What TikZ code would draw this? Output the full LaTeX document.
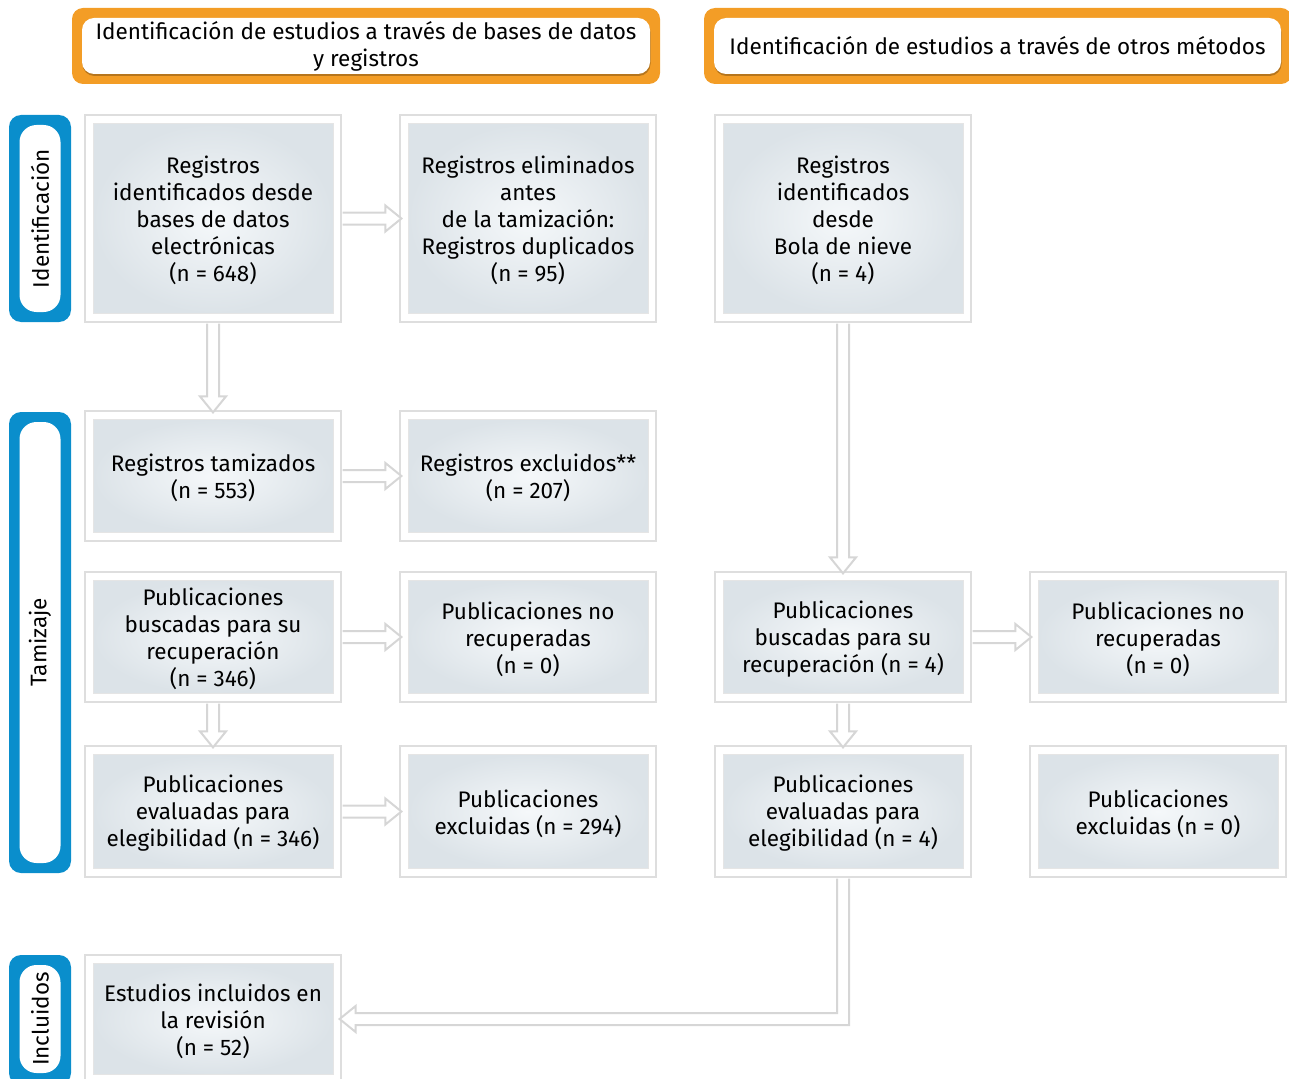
\documentclass[tikz,border=0pt]{standalone}
\usepackage{fontspec}
\setmainfont{Fira Sans}
\usetikzlibrary{calc,shadows}
\definecolor{orng}{RGB}{243,157,38}
\definecolor{blu}{RGB}{10,142,204}
\definecolor{boxedge}{RGB}{220,227,232}
\definecolor{boxmid}{RGB}{245,248,250}
\tikzset{
  outerbox/.style={draw=black!13, line width=1.2pt, fill=white, minimum width=256pt, inner sep=0pt},
  innerbox/.style={draw=black!10, line width=0.8pt, inner color=boxmid, outer color=boxedge,
    minimum width=240pt, inner sep=0pt},
  boxtext/.style={align=center, font=\fontsize{22.5}{27}\selectfont, inner sep=0pt},
  arrowshape/.style={fill=white, draw=black!16, line width=2pt, line join=miter},
  headouter/.style={fill=orng, rounded corners=11pt, minimum width=588pt, minimum height=76pt, inner sep=0pt},
  headinner/.style={fill=white, rounded corners=12pt, minimum width=568pt, minimum height=56pt, inner sep=0pt,
    align=center, font=\fontsize{22.5}{28}\selectfont,
    drop shadow={shadow xshift=0.5pt, shadow yshift=-2pt, opacity=0.25, fill=black}},
  sideouter/.style={fill=blu, rounded corners=12pt, minimum width=62pt, inner sep=0pt},
  sideinner/.style={fill=white, rounded corners=17pt, minimum width=41pt, inner sep=0pt},
  sidetext/.style={rotate=90, font=\fontsize{22.5}{27}\selectfont, inner sep=0pt},
}
\newcommand\pbox[5]{%
  \node[outerbox, minimum height=#4pt] (#1) at (#2,#3) {};
  \node[innerbox, minimum height=#4pt-17pt] (#1i) at (#2,#3) {};
  \node[boxtext] (#1t) at ([yshift=-2pt]#1i.center) {#5};}
% right-pointing arrow from #1.east to #2.west
\newcommand\arrR[2]{%
  \draw[arrowshape] let \p1=(#1.east), \p2=(#2.west) in
    ({\x1+1pt},{\y1+6pt}) -- ({\x2-14pt},{\y1+6pt}) -- ({\x2-14pt},{\y1+13pt}) -- ({\x2+2pt},\y1)
    -- ({\x2-14pt},{\y1-13pt}) -- ({\x2-14pt},{\y1-6pt}) -- ({\x1+1pt},{\y1-6pt});}
% down-pointing arrow from #1.south to #2.north
\newcommand\arrD[2]{%
  \draw[arrowshape] let \p1=(#1.south), \p2=(#2.north) in
    ({\x1-6pt},{\y1-1pt}) -- ({\x1-6pt},{\y2+14pt}) -- ({\x1-13pt},{\y2+14pt}) -- (\x1,{\y2-2pt})
    -- ({\x1+13pt},{\y2+14pt}) -- ({\x1+6pt},{\y2+14pt}) -- ({\x1+6pt},{\y1-1pt});}
\begin{document}
\begin{tikzpicture}[x=1pt,y=-1pt]
\useasboundingbox (0,0) rectangle (1289,1078);
\clip (0,0) rectangle (1289,1078);

% headers
\node[headouter] (h1) at (366,46) {};
\node[headinner] (h1i) at (366,46) {Identificación de estudios a través de bases de datos\\[-1pt]y registros};
\node[headouter] (h2) at (998,46) {};
\node[headinner, minimum width=567pt] (h2i) at (997.5,46) {Identificación de estudios a través de otros métodos};

% side labels
\node[sideouter, minimum height=207pt] (s1) at (40,218.5) {};
\node[sideinner, minimum height=187pt] (s1i) at (40,218.5) {};
\node[sidetext] (s1t) at (s1i) {Identificación};
\node[sideouter, minimum height=461pt] (s2) at (40,642.5) {};
\node[sideinner, minimum height=441pt] (s2i) at (40,642.5) {};
\node[sidetext] (s2t) at (s2i) {Tamizaje};
\node[sideouter, minimum height=130pt] (s3) at (40,1020) {};
\node[sideinner, minimum height=108pt] (s3i) at (40,1019) {};
\node[sidetext] (s3t) at (s3i) {Incluidos};

% boxes
\pbox{a1}{213}{218.5}{207}{Registros\\identificados desde\\bases de datos\\electrónicas\\(n = 648)}
\pbox{b1}{528}{218.5}{207}{Registros eliminados\\antes\\de la tamización:\\Registros duplicados\\(n = 95)}
\pbox{c1}{843}{218.5}{207}{Registros\\identificados\\desde\\Bola de nieve\\(n = 4)}
\pbox{a2}{213}{476}{130}{Registros tamizados\\(n = 553)}
\pbox{b2}{528}{476}{130}{Registros excluidos**\\(n = 207)}
\pbox{a3}{213}{637}{130}{Publicaciones\\buscadas para su\\recuperación\\(n = 346)}
\pbox{b3}{528}{637}{130}{Publicaciones no\\recuperadas\\(n = 0)}
\pbox{c3}{843}{637}{130}{Publicaciones\\buscadas para su\\recuperación (n = 4)}
\pbox{d3}{1158}{637}{130}{Publicaciones no\\recuperadas\\(n = 0)}
\pbox{a4}{213}{811.5}{131}{Publicaciones\\evaluadas para\\elegibilidad (n = 346)}
\pbox{b4}{528}{811.5}{131}{Publicaciones\\excluidas (n = 294)}
\pbox{c4}{843}{811.5}{131}{Publicaciones\\evaluadas para\\elegibilidad (n = 4)}
\pbox{d4}{1158}{811.5}{131}{Publicaciones\\excluidas (n = 0)}
\pbox{a5}{213}{1019}{128}{Estudios incluidos en\\la revisión\\(n = 52)}

% arrows
\arrD{a1}{a2}
\arrD{a3}{a4}
\arrD{c1}{c3}
\arrD{c3}{c4}
\arrR{a1}{b1}
\arrR{a2}{b2}
\arrR{a3}{b3}
\arrR{a4}{b4}
\arrR{c3}{d3}
% elbow arrow
\draw[arrowshape] let \p1=(c4.south), \p2=(a5.east) in
  ({\x1-6pt},{\y1-1pt}) -- ({\x1-6pt},{\y2+6pt}) -- ({\x2+14pt},{\y2+6pt}) -- ({\x2+14pt},{\y2+13pt})
  -- ({\x2-2pt},\y2) -- ({\x2+14pt},{\y2-13pt}) -- ({\x2+14pt},{\y2-6pt}) -- ({\x1+6pt},{\y2-6pt})
  -- ({\x1+6pt},{\y1-1pt});
\end{tikzpicture}
\end{document}
